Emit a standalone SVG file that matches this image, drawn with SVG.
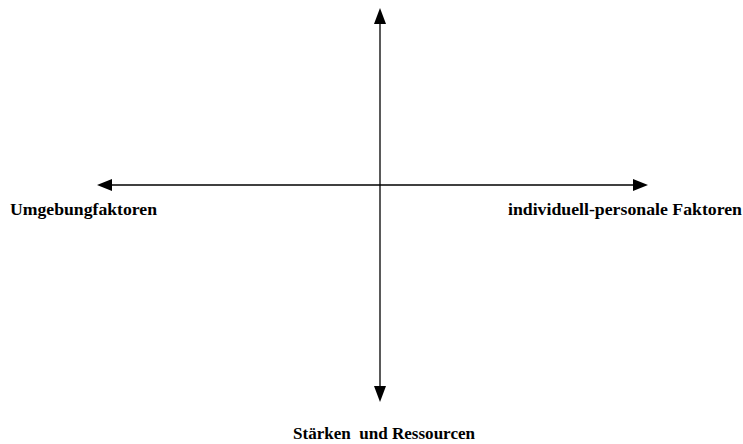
<svg xmlns="http://www.w3.org/2000/svg" width="743" height="444" viewBox="0 0 743 444">
<style>
.ax{stroke:#000;stroke-width:1.3;fill:none}
.ah{fill:#000}
.lb{font-family:"Liberation Serif","Times New Roman",serif;font-weight:bold;font-size:17px;fill:#000}
</style>
<rect width="743" height="444" fill="#fff"/>
<g id="connectors">
<line class="ax" x1="380" y1="22" x2="380" y2="388"/>
<polygon class="ah" points="380,8 374,24 386,24"/>
<polygon class="ah" points="380,402 374,386 386,386"/>
<line class="ax" x1="110" y1="185" x2="636" y2="185"/>
<polygon class="ah" points="97,185 112,179 112,191"/>
<polygon class="ah" points="648,185 633,179 633,191"/>
</g>
<g id="left"><text class="lb" x="10" y="215" textLength="147" lengthAdjust="spacingAndGlyphs">Umgebungfaktoren</text></g>
<g id="right"><text class="lb" x="508" y="215" textLength="234" lengthAdjust="spacingAndGlyphs">individuell-personale Faktoren</text></g>
<g id="bottom"><text class="lb" x="293" y="439" textLength="182" lengthAdjust="spacingAndGlyphs" xml:space="preserve">Stärken  und Ressourcen</text></g>
</svg>
